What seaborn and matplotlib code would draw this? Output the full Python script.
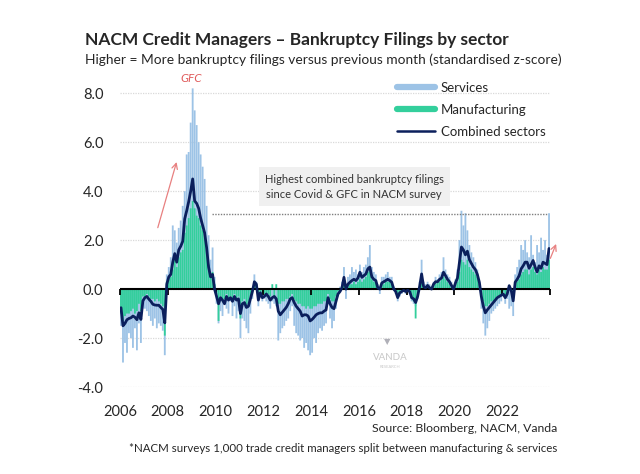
import numpy as np
import pandas as pd
import matplotlib
matplotlib.use("Agg")
import matplotlib.pyplot as plt
import seaborn as sns
from matplotlib.lines import Line2D

# monthly z-scores, Jan 2006 .. Dec 2023 (one row per year)
services = [
    -1.5, -3.0, -2.2, -2.6, -1.8, -2.0, -2.4, -1.6, -2.5, -1.4, -2.2, -0.8,  # 2006
    -0.8, -0.9, -1.1, -1.3, -1.5, -1.2, -1.6, -1.4, -1.5, -1.7, -2.7, 0.6,   # 2007
    0.9, 1.3, 2.6, 2.4, 1.9, 2.5, 2.8, 3.4, 4.0, 5.5, 5.6, 6.8,              # 2008
    8.2, 7.3, 6.7, 6.0, 5.5, 5.0, 4.5, 3.4, 2.2, 1.2, 1.7, 0.5,              # 2009
    -0.6, -1.4, -0.9, -1.1, -0.3, -0.8, -1.0, -0.5, -1.1, -0.7, -1.2, -0.9,  # 2010
    -2.0, -1.2, -1.3, -1.6, -1.8, -1.0, -0.4, 0.6, 0.3, -0.7, -0.3, -0.5,    # 2011
    -0.4, -0.5, -0.6, -0.8, -0.5, -0.6, -0.7, -2.1, -1.8, -1.6, -1.5, -1.3,  # 2012
    -1.2, -0.9, -0.7, -1.5, -1.8, -1.9, -2.1, -2.0, -2.4, -2.2, -2.5, -2.7,  # 2013
    -2.6, -2.0, -2.2, -1.8, -1.6, -1.7, -1.5, -1.4, -0.6, -1.2, -1.6, -1.3,  # 2014
    -0.8, -0.3, 0.1, 0.3, 0.9, -0.4, 0.5, 0.6, 0.9, 0.7, 0.8, 0.6,           # 2015
    1.0, 0.7, 0.9, 1.0, 1.3, 1.8, 0.9, 0.7, 0.6, 0.2, -0.2, 0.5,             # 2016
    0.5, 0.6, 0.7, 0.5, 0.5, 0.1, -0.2, -0.5, -0.3, -0.2, -0.1, -0.2,        # 2017
    -0.1, -0.2, -0.5, -0.6, -0.7, -0.4, 0.3, 1.2, 0.3, 0.2, 0.3, 0.2,        # 2018
    0.1, 0.3, 0.5, 0.4, 0.6, 0.7, 1.3, 0.8, 0.6, 0.5, 0.3, 0.1,              # 2019
    0.4, 0.8, 2.0, 3.2, 2.6, 3.1, 2.4, 1.8, 1.5, 1.3, 1.1, 0.8,              # 2020
    0.2, -0.8, -1.4, -1.9, -1.6, -1.3, -1.0, -0.9, -0.8, -0.7, -0.6, -0.5,   # 2021
    -0.3, -0.6, -0.4, -0.8, -0.7, -1.1, 0.6, 0.9, 1.2, 1.8, 1.6, 2.0,        # 2022
    1.5, 1.3, 2.2, 1.4, 1.1, 1.8, 1.5, 2.1, 1.6, 2.0, 1.4, 3.1,              # 2023
]

manufacturing = [
    -1.0, -1.3, -1.1, -1.0, -1.0, -0.9, -0.8, -1.0, -0.9, -0.6, -0.9, -0.3,  # 2006
    -0.3, -0.2, -0.3, -0.4, -0.4, -0.5, -0.4, -0.5, -0.6, -0.7, -1.9, 0.3,   # 2007
    0.5, 0.5, 0.8, 1.2, 0.9, 1.3, 1.5, 1.6, 2.3, 2.6, 2.9, 3.3,              # 2008
    3.6, 3.3, 3.0, 2.9, 2.6, 2.4, 2.1, 1.6, 1.0, 0.6, 0.7, 0.2,              # 2009
    -0.2, -1.3, -0.3, -0.5, -0.4, -0.2, -0.4, -0.3, -0.5, -0.2, -0.4, -0.3,  # 2010
    -1.2, -0.5, -0.4, -0.7, -0.6, -0.3, 0.0, 0.3, 0.2, -0.3, -0.1, -0.2,     # 2011
    -0.2, -0.3, -0.2, -0.3, 0.2, -0.3, 0.2, -0.6, -0.6, -0.5, -0.5, -0.4,    # 2012
    -0.4, -0.3, -0.2, -0.4, -0.5, -0.6, -0.6, -0.7, -0.7, -0.8, -0.7, -0.8,  # 2013
    -0.8, -0.7, -0.7, -0.6, -0.6, -0.6, -0.5, -0.5, -0.2, -0.4, -0.5, -0.5,  # 2014
    -0.3, -0.1, 0.0, 0.1, 0.3, 0.0, 0.1, 0.2, 0.2, 0.3, 0.2, 0.3,            # 2015
    0.4, 0.3, 0.4, 0.5, 0.7, 0.8, 0.4, 0.3, 0.3, 0.1, 0.0, 0.2,              # 2016
    0.2, 0.3, 0.3, 0.3, 0.2, 0.0, -0.1, -0.3, -0.1, -0.1, 0.0, -0.1,         # 2017
    0.0, -0.1, -0.4, -0.5, -1.2, -0.3, 0.1, 0.4, 0.1, 0.1, 0.1, 0.1,         # 2018
    0.0, 0.2, 0.2, 0.3, 0.3, 0.4, 0.5, 0.4, 0.3, 0.2, 0.1, 0.0,              # 2019
    0.2, 0.3, 0.7, 1.2, 1.1, 1.0, 1.2, 0.9, 0.8, 0.7, 0.6, 0.5,              # 2020
    0.2, -0.2, -0.5, -0.7, -0.7, -0.6, -0.5, -0.5, -0.4, -0.3, -0.3, -0.2,   # 2021
    -0.1, -0.3, -0.1, 0.1, 0.0, -0.4, 0.2, 0.3, 0.4, 0.6, 0.7, 0.8,          # 2022
    0.8, 0.6, 0.8, 0.9, 0.7, 0.6, 0.8, 0.7, 0.9, 0.8, 0.8, 1.2,              # 2023
]

combined = [
    -0.76, -1.5, -1.4, -1.25, -1.2, -1.17, -1.1, -1.15, -1.25, -0.97, -1.24, -0.48,  # 2006
    -0.35, -0.3, -0.41, -0.5, -0.62, -0.65, -0.66, -0.66, -0.75, -0.83, -1.38, 0.2,  # 2007
    0.5, 0.6, 1.1, 1.45, 1.1, 1.6, 1.75, 1.95, 2.87, 3.2, 3.57, 4.0,                 # 2008
    4.5, 3.6, 3.5, 3.3, 2.9, 2.6, 2.3, 1.7, 0.9, 0.5, 0.6, 0.0,                      # 2009
    -0.3, -0.6, -0.35, -0.45, -0.6, -0.3, -0.45, -0.35, -0.5, -0.3, -0.45, -0.4,     # 2010
    -1.0, -0.6, -0.55, -0.75, -0.7, -0.4, -0.1, 0.3, 0.2, -0.45, -0.15, -0.35,       # 2011
    -0.3, -0.2, -0.3, -0.45, -0.35, -0.3, -0.4, -0.9, -1.05, -0.95, -0.85, -0.75,    # 2012
    -0.6, -0.4, -0.35, -0.55, -0.7, -0.8, -0.9, -1.1, -1.05, -1.05, -1.1, -1.3,      # 2013
    -1.24, -1.15, -1.05, -1.0, -0.97, -0.97, -0.9, -0.85, -0.35, -0.6, -0.75, -0.8,  # 2014
    -0.5, -0.2, -0.1, 0.05, 0.48, 0.0, 0.2, 0.28, 0.35, 0.4, 0.35, 0.45,             # 2015
    0.69, 0.48, 0.55, 0.62, 0.83, 0.9, 0.5, 0.4, 0.35, 0.05, 0.0, 0.25,              # 2016
    0.3, 0.35, 0.4, 0.35, 0.28, 0.0, -0.1, -0.35, -0.15, -0.1, -0.05, -0.1,          # 2017
    -0.05, -0.1, -0.35, -0.4, -0.55, -0.3, 0.1, 0.62, 0.1, 0.05, 0.15, 0.05,         # 2018
    0.0, 0.2, 0.3, 0.3, 0.4, 0.45, 0.69, 0.55, 0.4, 0.3, 0.15, 0.0,                  # 2019
    0.25, 0.45, 1.1, 1.72, 1.6, 1.4, 1.55, 1.2, 1.05, 0.9, 0.8, 0.6,                 # 2020
    0.28, -0.3, -0.7, -0.97, -0.85, -0.75, -0.65, -0.55, -0.45, -0.35, -0.3, -0.25,  # 2021
    -0.2, -0.35, -0.2, 0.14, -0.05, -0.48, 0.28, 0.4, 0.55, 0.83, 0.95, 1.1,         # 2022
    1.1, 0.85, 1.0, 1.17, 0.9, 0.7, 0.95, 0.85, 1.1, 1.05, 1.0, 1.66,                # 2023
]

year_labels = list(range(2006, 2023, 2))
y_ticks = [-4, -2, 0, 2, 4, 6, 8]
record_level = 3.05

blue = "#9dc3e6"
green = "#33cf9c"
navy = "#0b1f5c"

# bar centre = middle of each month, in decimal years
t = 2006 + (np.arange(len(combined)) + 0.5) / 12
df = pd.DataFrame({"t": t, "Services": services,
                   "Manufacturing": manufacturing, "Combined": combined})

sns.set_style("white")
plt.rcParams["font.family"] = ["Lato", "DejaVu Sans"]
plt.rcParams["axes.unicode_minus"] = False

fig = plt.figure(figsize=(6.4, 4.74), dpi=100)
ax = fig.add_axes([0.1875, 0.1835, 0.6719, 0.6456])

bw = 0.92 / 12
ax.bar(df["t"], df["Services"], width=bw, color=blue, linewidth=0,
       snap=False, zorder=2)
ax.bar(df["t"], df["Manufacturing"], width=bw, color=green, linewidth=0,
       snap=False, zorder=2)
sns.lineplot(data=df, x="t", y="Combined", color=navy, lw=2, ax=ax, zorder=5)

ax.set_xlim(2006, 2024)
ax.set_ylim(-4, 8.5)
ax.set_xlabel("")
ax.set_ylabel("")
ax.set_yticks(y_ticks)
ax.set_yticklabels([f"{v:.1f}" for v in y_ticks])
ax.set_xticks(year_labels)
ax.set_xticklabels([str(y) for y in year_labels])
ax.tick_params(axis="both", length=0, labelsize=10.5)
ax.tick_params(axis="x", pad=13)
ax.tick_params(axis="y", pad=12)
ax.grid(axis="y", color="#d9d9d9", ls=(0, (1, 1)), lw=0.9)
ax.grid(axis="x", visible=False)
for s in ax.spines.values():
    s.set_visible(False)

# zero line with little year ticks
ax.axhline(0, color="black", lw=1.5, zorder=4)
tick_years = list(range(2006, 2025, 2))
ax.plot(tick_years, [0] * len(tick_years), ls="none", marker=3, ms=4,
        mew=1.3, color="black", zorder=4, clip_on=False)

# record line and comment
ax.hlines(record_level, 2009.85, 2023.9, colors="#7f7f7f",
          linestyles=(0, (1, 1)), lw=1, zorder=3)
ax.text(2015.8, 4.18, "Highest combined bankruptcy filings\nsince Covid & GFC in NACM survey",
        ha="center", va="center", fontsize=8, color="#333333", linespacing=1.5,
        bbox=dict(boxstyle="square,pad=0.55", fc="#f0f0f0", ec="none"), zorder=6)

ax.text(2009.0, 8.6, "GFC", color="#e05a5a", fontsize=8.5, style="italic",
        ha="center", va="center")
ax.annotate("", xy=(2008.4, 5.3), xytext=(2007.55, 2.4),
            arrowprops=dict(arrowstyle="->", color="#e88080", lw=0.9))
ax.annotate("", xy=(2024.3, 1.95), xytext=(2023.97, 1.15), annotation_clip=False,
            arrowprops=dict(arrowstyle="->", color="#e88080", lw=0.9))

# watermark
ax.text(2017.2, -2.15, "\u25bc", ha="center", va="center", fontsize=6,
        color="#b0b0b8", family="DejaVu Sans", zorder=1)
ax.text(2017.3, -2.8, "VANDA", ha="center", va="center", fontsize=7,
        color="#c8c8c8", zorder=1)
ax.text(2017.3, -3.2, "RESEARCH", ha="center", va="center", fontsize=3,
        color="#c8c8c8", zorder=1)

handles = [Line2D([], [], color=blue, lw=4.5),
           Line2D([], [], color=green, lw=4.5),
           Line2D([], [], color=navy, lw=1.8)]
fig.legend(handles, ["Services", "Manufacturing", "Combined sectors"],
           loc="upper left", bbox_to_anchor=(397 / 640, 1 - 82 / 474),
           frameon=False, fontsize=9.5, handlelength=2.9, handletextpad=0.4,
           labelspacing=0.75, borderpad=0, borderaxespad=0)

fig.text(85 / 640, 1 - 40 / 474, "NACM Credit Managers \u2013 Bankruptcy Filings by sector",
         fontsize=12.5, weight="bold", va="center", ha="left")
fig.text(85 / 640, 1 - 60 / 474,
         "Higher = More bankruptcy filings versus previous month (standardised z-score)",
         fontsize=9.9, va="center", ha="left")
fig.text(557 / 640, 1 - 429 / 474, "Source: Bloomberg, NACM, Vanda",
         fontsize=8.8, va="center", ha="right")
fig.text(557 / 640, 1 - 449 / 474,
         "*NACM surveys 1,000 trade credit managers split between manufacturing & services",
         fontsize=8.3, va="center", ha="right")

fig.savefig("out.png", dpi=100)
